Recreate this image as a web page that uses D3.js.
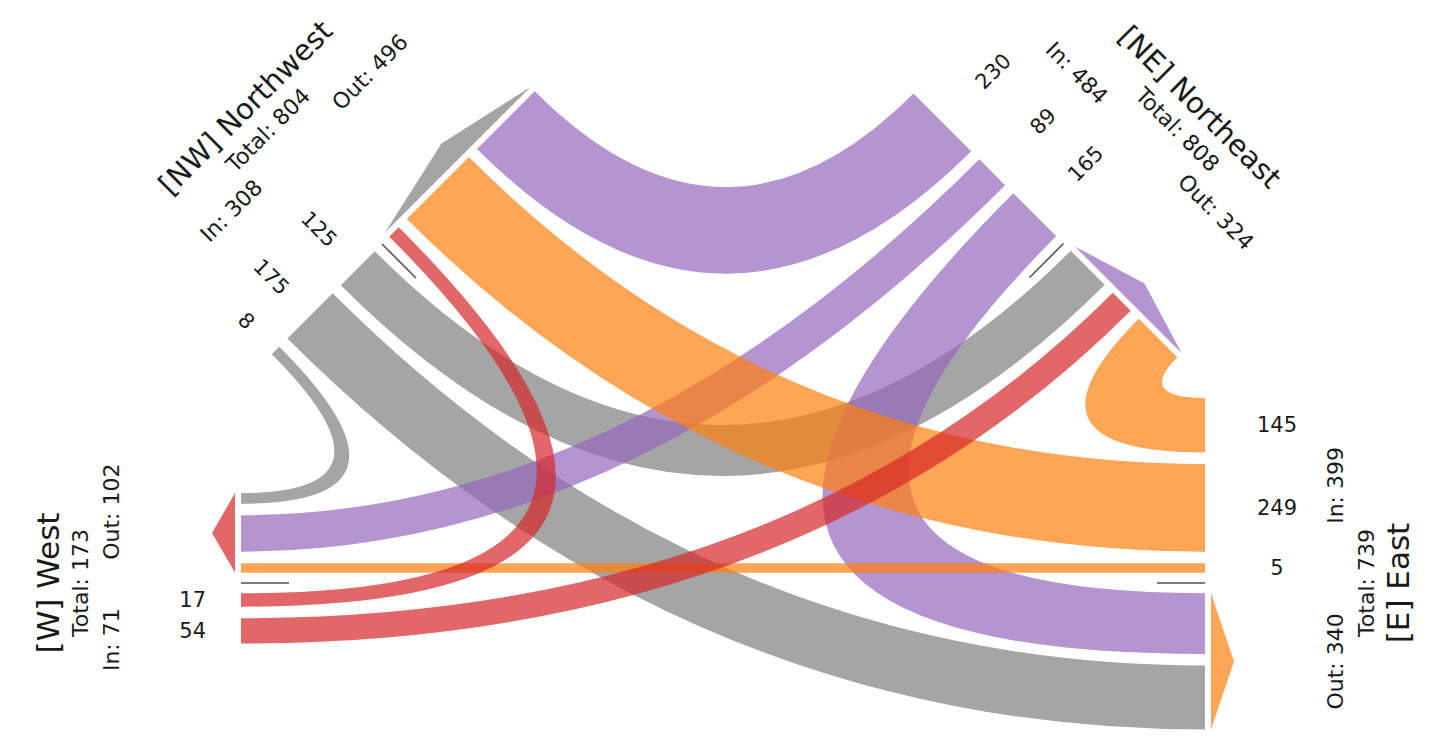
<!DOCTYPE html>
<html><head><meta charset="utf-8">
<script src="https://cdn.jsdelivr.net/npm/d3@7"></script>
<style>body{margin:0;background:#fff}svg{display:block}</style>
</head><body>
<svg id="chart" width="1441" height="738"></svg>
<script>
// ---------------- data ----------------
const nodeIds = ["NW", "NE", "W", "E"];
const nodeNames = ["Northwest", "Northeast", "West", "East"];
const nodeColors = ["#7f7f7f", "#9467bd", "#d62728", "#ff7f0e"];
const flowSources = ["NW", "NW", "NW", "NE", "NE", "NE", "W", "W", "W", "E", "E", "E"];
const flowTargets = ["NE", "E", "W", "NW", "E", "W", "NW", "NE", "E", "NE", "NW", "W"];
const flowValues = [230, 249, 17, 125, 145, 54, 8, 89, 5, 165, 175, 0];
const uTurnValues = [0, 0, 0, 0];
// partner order, from the leg centre line outwards
const outOrder = { NW: ["W", "E", "NE"], NE: ["NW", "W", "E"], W: ["E", "NE", "NW"], E: ["NE", "NW", "W"] };
const inOrder = { NW: ["NE", "E", "W"], NE: ["E", "W", "NW"], W: ["NW", "NE", "E"], E: ["W", "NW", "NE"] };

// ---------------- layout ----------------
const legGeom = {
  W: { x: 241, y: 583, angle: 0 },
  E: { x: 1205, y: 583, angle: 180 },
  NW: { x: 382, y: 244, angle: 45 },
  NE: { x: 1063.5, y: 243.5, angle: 135 }
};
const width = d3.scaleLinear().domain([0, 1000]).range([0, 320]);
const GAP = 19.5, CENTER_GAP = 28.5, PAD = 4, ALPHA = 0.7;

const svg = d3.select("#chart");
const color = d3.scaleOrdinal().domain(nodeIds).range(nodeColors);
const flows = flowSources.map((s, i) => ({ source: s, target: flowTargets[i], value: flowValues[i] }));
const val = (s, t) => { const f = flows.find(d => d.source === s && d.target === t); return f ? f.value : 0; };

const legs = {};
nodeIds.forEach((id, i) => {
  const g = legGeom[id];
  const a = g.angle * Math.PI / 180;
  const n = [Math.cos(a), Math.sin(a)];
  const outDir = [n[1], -n[0]];
  const inDir = [-outDir[0], -outDir[1]];
  const leg = { id, name: nodeNames[i], c: [g.x, g.y], n, outDir, inDir, out: {}, in: {} };
  let t = CENTER_GAP / 2;
  outOrder[id].forEach(p => {
    const v = val(id, p); if (v <= 0) return;
    const w = width(v); leg.out[p] = [t, t + w]; t += w + GAP;
  });
  t = CENTER_GAP / 2;
  inOrder[id].forEach(p => {
    const v = val(p, id); if (v <= 0) return;
    const w = width(v); leg.in[p] = [t, t + w]; t += w + GAP;
  });
  leg.totalIn = d3.sum(nodeIds, p => val(p, id));
  leg.totalOut = d3.sum(nodeIds, p => val(id, p));
  legs[id] = leg;
});

const pt = (leg, dir, t, off = 0) => [leg.c[0] + dir[0] * t - leg.n[0] * off, leg.c[1] + dir[1] * t - leg.n[1] * off];

function segCross(p1, p2, p3, p4) {
  const d = (a, b, c) => (b[0] - a[0]) * (c[1] - a[1]) - (b[1] - a[1]) * (c[0] - a[0]);
  const d1 = d(p3, p4, p1), d2 = d(p3, p4, p2), d3 = d(p1, p2, p3), d4 = d(p1, p2, p4);
  return (d1 * d2 < 0) && (d3 * d4 < 0);
}
function edge(path, P, nP, Q, nQ) {
  const dx = Q[0] - P[0], dy = Q[1] - P[1];
  const det = -nP[0] * nQ[1] + nQ[0] * nP[1];
  if (Math.abs(det) > 1e-6) {
    const a = (-dx * nQ[1] + nQ[0] * dy) / det;
    const b = (nP[0] * dy - nP[1] * dx) / det;
    if (a > 0 && b > 0) {
      path.quadraticCurveTo(P[0] + nP[0] * a, P[1] + nP[1] * a, Q[0], Q[1]);
      return;
    }
  }
  const L = Math.hypot(dx, dy) / 2;
  path.bezierCurveTo(P[0] + nP[0] * L, P[1] + nP[1] * L, Q[0] + nQ[0] * L, Q[1] + nQ[1] * L, Q[0], Q[1]);
}

// ---------------- bands ----------------
const gBands = svg.append("g");
const drawOrder = ["NW", "NE", "E", "W"];
const bandList = flows.filter(f => f.value > 0)
  .sort((a, b) => drawOrder.indexOf(a.target) - drawOrder.indexOf(b.target));
bandList.forEach(f => {
  const S = legs[f.source], T = legs[f.target];
  const so = S.out[f.target], ti = T.in[f.source];
  const s1 = pt(S, S.outDir, so[0] - PAD), s2 = pt(S, S.outDir, so[1] + PAD);
  let ta = pt(T, T.inDir, ti[0] - PAD), tb = pt(T, T.inDir, ti[1] + PAD);
  if (segCross(s1, ta, s2, tb)) { const tmp = ta; ta = tb; tb = tmp; }
  const p = d3.path();
  p.moveTo(s1[0], s1[1]);
  edge(p, s1, S.n, ta, T.n);
  p.lineTo(tb[0], tb[1]);
  edge(p, tb, T.n, s2, S.n);
  p.closePath();
  gBands.append("path").attr("d", p.toString())
    .attr("fill", color(f.target)).attr("fill-opacity", ALPHA);
});

// ---------------- arrows, u-turns ----------------
const gDeco = svg.append("g");
nodeIds.forEach((id, i) => {
  const L = legs[id];
  const slots = Object.values(L.out);
  const t0 = d3.min(slots, d => d[0]) - PAD, t1 = d3.max(slots, d => d[1]) + PAD;
  const b1 = pt(L, L.outDir, t0, 6), b2 = pt(L, L.outDir, t1, 6), tip = pt(L, L.outDir, (t0 + t1) / 2, 29);
  gDeco.append("path").attr("d", d3.line()([b1, tip, b2]) + "Z")
    .attr("fill", color(id)).attr("fill-opacity", ALPHA);
  const u0 = pt(L, L.outDir, 0, 0), u1 = pt(L, L.outDir, 0, -48 - uTurnValues[i]);
  gDeco.append("line").attr("x1", u0[0]).attr("y1", u0[1]).attr("x2", u1[0]).attr("y2", u1[1])
    .attr("stroke", "#4f5360").attr("stroke-width", 1.6);
});

// ---------------- labels ----------------
const gText = svg.append("g").attr("font-family", "DejaVu Sans, sans-serif").attr("fill", "#1a1a1a");
function text(p, rot, str, size, anchor) {
  gText.append("text").attr("transform", `translate(${p[0]},${p[1]}) rotate(${rot})`)
    .attr("text-anchor", anchor).attr("dominant-baseline", "central")
    .attr("font-size", size).text(str);
}
nodeIds.forEach(id => {
  const L = legs[id];
  const vertical = Math.abs(L.n[1]) < 1e-6;
  // flow value labels on incoming slots
  const readIn = L.n[0] > 0;
  const numRot = Math.atan2(readIn ? L.n[1] : -L.n[1], readIn ? L.n[0] : -L.n[0]) * 180 / Math.PI;
  Object.entries(L.in).forEach(([p, s]) => {
    const c = (s[0] + s[1]) / 2;
    if (readIn) text(pt(L, L.inDir, c, 35), numRot, val(p, id), vertical ? 21 : 21, "end");
    else text(pt(L, L.inDir, c, 72), numRot, val(p, id), vertical ? 21 : 21, "middle");
  });
  // node labels along the leg
  let dir = L.outDir[0] > 1e-6 ? L.outDir : (Math.abs(L.outDir[0]) < 1e-6 ? (L.outDir[1] < 0 ? L.outDir : L.inDir) : L.inDir);
  const rot = Math.atan2(dir[1], dir[0]) * 180 / Math.PI;
  const nameSize = vertical ? 31 : 29, infoSize = 22;
  text(pt(L, L.outDir, 0, 193), rot, `[${id}] ${L.name}`, nameSize, "middle");
  text(pt(L, L.outDir, 0, 161), rot, `Total: ${L.totalIn + L.totalOut}`, infoSize, "middle");
  const os = Object.values(L.out), is = Object.values(L.in);
  let oc = (d3.min(os, d => d[0]) + d3.max(os, d => d[1])) / 2;
  let ic = (d3.min(is, d => d[0]) + d3.max(is, d => d[1])) / 2;
  if (oc + ic < 128) { const mid = (oc - ic) / 2; oc = mid + 64; ic = 64 - mid; }
  text(pt(L, L.outDir, oc, 130), rot, `Out: ${L.totalOut}`, infoSize, "middle");
  text(pt(L, L.inDir, ic, 130), rot, `In: ${L.totalIn}`, infoSize, "middle");
});
</script>
</body></html>
